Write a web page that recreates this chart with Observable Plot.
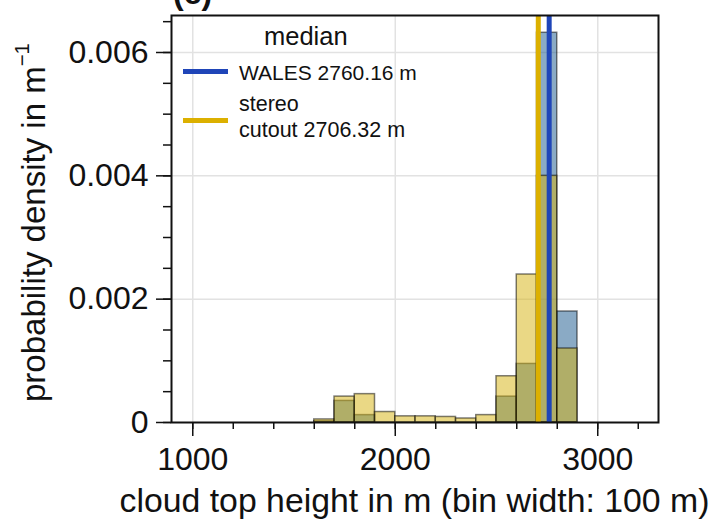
<!DOCTYPE html>
<html><head><meta charset="utf-8">
<script src="https://cdn.jsdelivr.net/npm/d3@7"></script>
<script src="https://cdn.jsdelivr.net/npm/@observablehq/plot@0.6"></script>
<style>
body{margin:0;background:#fff;font-family:"Liberation Sans",Arial,Helvetica,sans-serif;}
#wrap{position:relative;width:709px;height:520px;overflow:hidden;background:#fff;}
.t{position:absolute;white-space:nowrap;line-height:1;color:#111;}
.ln{position:absolute;}
</style></head><body><div id="wrap"></div>
<script>
// bin starts (m), bin width 100 m
const binStarts = [1600,1700,1800,1900,2000,2100,2200,2300,2400,2500,2600,2700,2800,2900];
const binWidth = 100;
// probability density (1/m)
const walesDensity  = [0.00002,0.00035,0.00012,0,0,0,0,0,0,0.00042,0.00095,0.00632,0.00180,0];
const stereoDensity = [0.00005,0.00042,0.00046,0.00017,0.00010,0.00010,0.00009,0.000065,0.00012,0.00075,0.00240,0.00400,0.00120,0];
const medianWales = 2760.16;
const medianStereo = 2706.32;
const xMajorTicks = [1000,2000,3000];
const xMinorTicks = [1000,1200,1400,1600,1800,2000,2200,2400,2600,2800,3000,3200];
const yMajorTicks = [0,0.002,0.004,0.006];
const yMinorTicks = [0,0.0005,0.001,0.0015,0.002,0.0025,0.003,0.0035,0.004,0.0045,0.005,0.0055,0.006,0.0065];
const legendTitle = "median";
const legendWales = "WALES 2760.16 m";
const legendStereo = ["stereo","cutout 2706.32 m"];

const rows = (vals) => binStarts.map((s,i)=>({x1:s, x2:s+binWidth, y:vals[i]}));
const walesRows = rows(walesDensity);
const stereoRows = rows(stereoDensity);

const blueFill = "#15558b", yellowFill = "#d5b10b";
const blueLine = "#1f45b8", goldLine = "#dcb000";

const chart = Plot.plot({
  width: 709, height: 520,
  marginLeft: 171, marginRight: 51, marginTop: 15, marginBottom: 98,
  x: {domain: [895, 3300]},
  y: {domain: [0, 0.0066]},
  style: {fontFamily: "'Liberation Sans', Arial, sans-serif", fontSize: "32px", color: "#111", background: "#fff"},
  marks: [
    Plot.gridX(xMajorTicks, {stroke: "#e2e2e2", strokeOpacity: 1, strokeWidth: 1.5}),
    Plot.gridY(yMajorTicks.filter(d => d > 0), {stroke: "#e2e2e2", strokeOpacity: 1, strokeWidth: 1.5}),
    Plot.rect(walesRows, {x1: "x1", x2: "x2", y1: 0, y2: "y", fill: blueFill, fillOpacity: 0.5, stroke: "#000", strokeOpacity: 0.5, strokeWidth: 1.5}),
    Plot.rect(stereoRows, {x1: "x1", x2: "x2", y1: 0, y2: "y", fill: yellowFill, fillOpacity: 0.5, stroke: "#000", strokeOpacity: 0.5, strokeWidth: 1.5}),
    Plot.ruleX([medianStereo], {stroke: goldLine, strokeWidth: 5}),
    Plot.ruleX([medianWales], {stroke: blueLine, strokeWidth: 5}),
    Plot.frame({stroke: "#111", strokeWidth: 2}),
    Plot.axisX(xMinorTicks, {tickSize: 7, text: null, strokeWidth: 1.5, label: null}),
    Plot.axisX(xMajorTicks, {tickSize: 14, tickPadding: 11, strokeWidth: 1.5, tickFormat: "d", fontSize: 32, label: null}),
    Plot.axisY(yMinorTicks, {tickSize: 8, text: null, strokeWidth: 1.5, label: null}),
    Plot.axisY(yMajorTicks, {tickSize: 15, tickPadding: 8, strokeWidth: 1.5, fontSize: 32, label: null,
      tickFormat: d => d === 0 ? "0" : d3.format(".3f")(d)})
  ]
});
const wrap = document.getElementById("wrap");
wrap.appendChild(chart);
chart.style.position = "absolute"; chart.style.left = "0"; chart.style.top = "0";

function addText(txt, left, top, fs, extra) {
  const d = document.createElement("div");
  d.className = "t"; d.textContent = txt;
  d.style.left = left + "px"; d.style.top = top + "px"; d.style.fontSize = fs + "px";
  if (extra) Object.assign(d.style, extra);
  wrap.appendChild(d); return d;
}
function addLine(color, left, top, w, h) {
  const d = document.createElement("div");
  d.className = "ln"; Object.assign(d.style, {left: left+"px", top: top+"px", width: w+"px", height: h+"px", background: color});
  wrap.appendChild(d);
}
// panel tag (clipped at top, as in the reference)
addText("(c)", 173, -23, 32, {fontWeight: "bold"});
// legend
addText(legendTitle, 264, 24, 25.5);
addLine(blueLine, 183, 69, 45, 5);
addText(legendWales, 239, 62, 21);
addLine(goldLine, 183, 118, 45, 5);
addText(legendStereo[0], 239, 93.5, 21.5);
addText(legendStereo[1], 239, 120, 21.5);
// x label
addText("cloud top height in m (bin width: 100 m)", 0, 484, 33.8, {width: "829px", textAlign: "center"});
// y label
const yl = document.createElement("div");
yl.className = "t";
yl.innerHTML = "probability density in m<sup style='font-size:0.62em;vertical-align:0.75em;line-height:0'>−1</sup>";
Object.assign(yl.style, {fontSize: "33px", width: "440px", textAlign: "center", left: (33 - 220) + "px", top: (222 - 16.5) + "px", height: "33px", transform: "rotate(-90deg)", transformOrigin: "50% 50%"});
wrap.appendChild(yl);
</script></body></html>
